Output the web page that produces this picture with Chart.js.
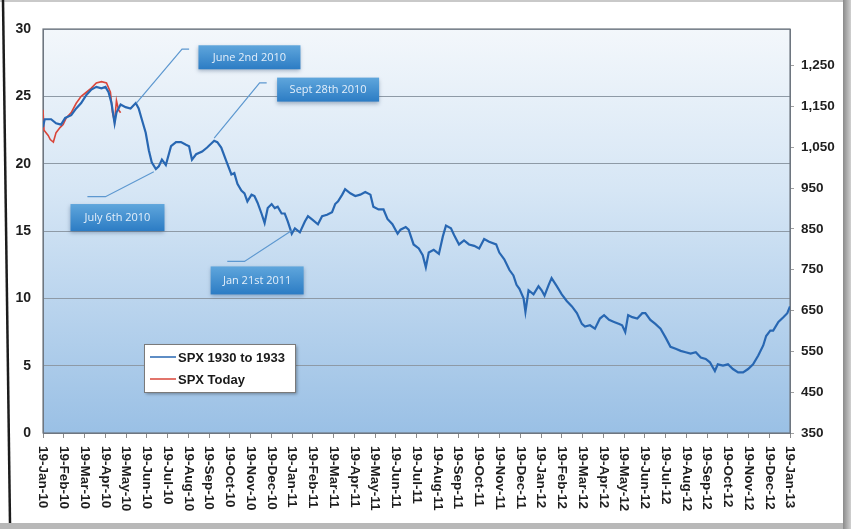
<!DOCTYPE html>
<html>
<head>
<meta charset="utf-8">
<script src="https://cdn.jsdelivr.net/npm/chart.js@4.4.0/dist/chart.umd.min.js"></script>
<style>
  html, body { margin: 0; padding: 0; background: #fff; }
</style>
</head>
<body>
<canvas id="myChart" width="851" height="529"></canvas>
<script>
// x tick labels, one per month (x value = months since 19-Jan-10)
const monthLabels = [
    '19-Jan-10', '19-Feb-10', '19-Mar-10', '19-Apr-10', '19-May-10', '19-Jun-10',
    '19-Jul-10', '19-Aug-10', '19-Sep-10', '19-Oct-10', '19-Nov-10', '19-Dec-10',
    '19-Jan-11', '19-Feb-11', '19-Mar-11', '19-Apr-11', '19-May-11', '19-Jun-11',
    '19-Jul-11', '19-Aug-11', '19-Sep-11', '19-Oct-11', '19-Nov-11', '19-Dec-11',
    '19-Jan-12', '19-Feb-12', '19-Mar-12', '19-Apr-12', '19-May-12', '19-Jun-12',
    '19-Jul-12', '19-Aug-12', '19-Sep-12', '19-Oct-12', '19-Nov-12', '19-Dec-12',
    '19-Jan-13'
];

// SPX 1930 to 1933 (left axis)
const spx1930Months = [
    0, 0.08, 0.39, 0.63, 0.87, 1.07, 1.36, 1.6, 1.84, 2.09, 2.33, 2.57, 2.82, 3.01, 3.16, 3.3,
    3.45, 3.54, 3.74, 3.98, 4.22, 4.47, 4.61, 4.76, 4.95, 5.1, 5.24, 5.44, 5.58, 5.73, 5.92,
    6.17, 6.41, 6.65, 6.89, 7.04, 7.18, 7.38, 7.67, 7.91, 8.25, 8.4, 8.59, 8.83, 9.08, 9.22,
    9.37, 9.56, 9.71, 9.85, 10.05, 10.19, 10.34, 10.53, 10.68, 10.83, 11.02, 11.17, 11.31,
    11.5, 11.65, 11.8, 11.99, 12.14, 12.38, 12.62, 12.77, 13.01, 13.25, 13.45, 13.69, 13.93,
    14.08, 14.22, 14.42, 14.56, 14.81, 15.05, 15.29, 15.53, 15.78, 15.92, 16.17, 16.41, 16.6,
    16.84, 17.09, 17.23, 17.48, 17.62, 17.86, 18.11, 18.3, 18.45, 18.59, 18.83, 19.08, 19.27,
    19.42, 19.66, 19.81, 20.05, 20.29, 20.53, 20.78, 21.02, 21.26, 21.5, 21.84, 21.99, 22.23,
    22.48, 22.67, 22.82, 22.96, 23.16, 23.25, 23.4, 23.64, 23.88, 24.03, 24.17, 24.37, 24.51,
    24.76, 25, 25.24, 25.49, 25.73, 25.97, 26.12, 26.36, 26.6, 26.84, 27.04, 27.28, 27.52,
    27.77, 27.91, 28.06, 28.2, 28.4, 28.64, 28.88, 29.03, 29.27, 29.51, 29.76, 30, 30.24,
    30.49, 30.73, 30.97, 31.21, 31.46, 31.7, 31.94, 32.14, 32.38, 32.52, 32.77, 33.01, 33.25,
    33.5, 33.74, 33.98, 34.22, 34.47, 34.71, 34.85, 35.05, 35.19, 35.44, 35.68, 35.87, 36
];
const spx1930Values = [
    22.7, 23.3, 23.3, 23.0, 22.9, 23.4, 23.6, 24.1, 24.5, 25.1, 25.5, 25.7, 25.6, 25.7, 25.3, 24.5,
    23.0, 23.8, 24.4, 24.2, 24.1, 24.5, 24.1, 23.3, 22.3, 21.0, 20.1, 19.6, 19.8, 20.3, 19.9,
    21.3, 21.6, 21.6, 21.4, 21.3, 20.3, 20.7, 20.9, 21.2, 21.7, 21.6, 21.2, 20.2, 19.2, 19.3,
    18.5, 18.0, 17.8, 17.2, 17.7, 17.6, 17.1, 16.3, 15.6, 16.7, 17.0, 16.7, 16.8,
    16.3, 16.3, 15.7, 14.8, 15.2, 14.9, 15.7, 16.1, 15.8, 15.5, 16.1, 16.2, 16.4,
    17.0, 17.2, 17.7, 18.1, 17.8, 17.6, 17.7, 17.9, 17.7, 16.8, 16.6, 16.6, 15.9,
    15.5, 14.8, 15.1, 15.3, 15.1, 14.0, 13.7, 13.2, 12.3, 13.4, 13.6, 13.3, 14.6,
    15.4, 15.2, 14.7, 14.0, 14.3, 14.0, 13.9, 13.7, 14.4, 14.2, 14.0, 13.4, 12.9,
    12.1, 11.7, 11.0, 10.7, 10.0, 9.0, 10.6, 10.3, 10.9, 10.6, 10.2, 11.0, 11.5,
    10.9, 10.3, 9.8, 9.4, 8.9, 8.1, 7.9, 8.0, 7.75, 8.5, 8.75, 8.4, 8.25,
    8.1, 8.0, 7.5, 8.75, 8.6, 8.5, 8.9, 8.9, 8.4, 8.1, 7.75, 7.1, 6.4,
    6.25, 6.1, 6.0, 5.9, 6.0, 5.6, 5.5, 5.25, 4.6, 5.1, 5.0, 5.1, 4.75,
    4.5, 4.5, 4.75, 5.1, 5.75, 6.5, 7.2, 7.6, 7.6, 8.25, 8.6, 8.9, 9.4
];

// SPX Today (right axis)
const spxTodayMonths = [
    0, 0.05, 0.25, 0.35, 0.5, 0.63, 0.83, 0.97, 1.12, 1.36, 1.6, 1.84, 2.09, 2.33, 2.57,
    2.82, 3.06, 3.25, 3.35, 3.45, 3.54, 3.64, 3.74
];
const spxTodayValues = [
    1142, 1092, 1079, 1069, 1063, 1086, 1099, 1106, 1122, 1135, 1158, 1175, 1185, 1195, 1208,
    1211, 1208, 1185, 1135, 1112, 1165, 1142, 1135
];

const rightTicks = [350, 450, 550, 650, 750, 850, 950, 1050, 1150, 1250];

const callouts = [
    { text: 'June 2nd 2010', at: [9.95, 27.9], w: 102, h: 24, path: [[4.5, 24.5], [6.7, 28.5], [7.04, 28.5]] },
    { text: 'Sept 28th 2010', at: [13.74, 25.5], w: 102, h: 24, path: [[8.25, 21.9], [10.44, 26.0], [10.78, 26.0]] },
    { text: 'July 6th 2010', at: [3.59, 16.0], w: 94, h: 27, path: [[5.34, 19.4], [3.01, 17.55], [2.14, 17.55]] },
    { text: 'Jan 21st 2011', at: [10.32, 11.33], w: 93, h: 28, path: [[11.99, 15.04], [9.71, 12.74], [8.88, 12.74]] }
];

const FONT = "'Liberation Sans', Arial, sans-serif";

// background, photo frame and plot gradient
const backdrop = {
    id: 'backdrop',
    beforeDraw(chart) {
        const { ctx, chartArea: a, width, height } = chart;
        ctx.save();
        ctx.fillStyle = '#fff';
        ctx.fillRect(0, 0, width, height);

        const g = ctx.createLinearGradient(0, a.top, 0, a.bottom);
        g.addColorStop(0, '#f3f7fb');
        g.addColorStop(0.4, '#d6e6f5');
        g.addColorStop(1, '#9ac0e5');
        ctx.fillStyle = g;
        ctx.fillRect(a.left, a.top, a.right - a.left, a.bottom - a.top);

        // edges of the photographed page
        ctx.fillStyle = '#c9c9c9';
        ctx.fillRect(0, 0, width, 2);
        ctx.fillStyle = '#b8b8b8';
        ctx.fillRect(0, 523, width, 6);
        const rg = ctx.createLinearGradient(843, 0, width, 0);
        rg.addColorStop(0, '#8a8a8a');
        rg.addColorStop(1, '#d0d0d0');
        ctx.fillStyle = rg;
        ctx.fillRect(843, 0, 8, height);
        ctx.strokeStyle = '#1c1c1c';
        ctx.lineWidth = 2.5;
        ctx.beginPath();
        ctx.moveTo(3, 0);
        ctx.lineTo(10, 523);
        ctx.stroke();
        ctx.restore();
    },
    beforeDatasetsDraw(chart) {
        const { ctx, chartArea: a } = chart;
        ctx.save();
        ctx.strokeStyle = '#6f7780';
        ctx.lineWidth = 1.2;
        ctx.strokeRect(a.left, a.top, a.right - a.left, a.bottom - a.top);
        ctx.restore();
    }
};

// rotated month labels (read top to bottom)
const monthAxis = {
    id: 'monthAxis',
    afterDraw(chart) {
        const { ctx, chartArea: a } = chart;
        const xs = chart.scales.x;
        ctx.save();
        ctx.fillStyle = '#1e1e1e';
        ctx.font = 'bold 13.5px ' + FONT;
        ctx.textAlign = 'left';
        ctx.textBaseline = 'middle';
        monthLabels.forEach((lab, i) => {
            const x = xs.getPixelForValue(i);
            ctx.save();
            ctx.translate(x, a.bottom + 13);
            ctx.rotate(Math.PI / 2);
            ctx.fillText(lab, 0, 0);
            ctx.restore();
        });
        ctx.restore();
    }
};

// callout boxes with leader lines
const calloutBoxes = {
    id: 'calloutBoxes',
    afterDatasetsDraw(chart) {
        const { ctx } = chart;
        const xs = chart.scales.x, ys = chart.scales.y;
        ctx.save();
        callouts.forEach(c => {
            ctx.strokeStyle = '#5d98d0';
            ctx.lineWidth = 1.2;
            ctx.beginPath();
            c.path.forEach((p, i) => {
                const px = xs.getPixelForValue(p[0]), py = ys.getPixelForValue(p[1]);
                if (i === 0) ctx.moveTo(px, py); else ctx.lineTo(px, py);
            });
            ctx.stroke();

            const cx = xs.getPixelForValue(c.at[0]), cy = ys.getPixelForValue(c.at[1]);
            const x0 = cx - c.w / 2, y0 = cy - c.h / 2;
            const g = ctx.createLinearGradient(0, y0, 0, y0 + c.h);
            g.addColorStop(0, '#5fa6dc');
            g.addColorStop(1, '#2c7cc4');
            ctx.save();
            ctx.shadowColor = 'rgba(30,60,100,0.35)';
            ctx.shadowBlur = 4;
            ctx.shadowOffsetY = 2;
            ctx.fillStyle = g;
            ctx.fillRect(x0, y0, c.w, c.h);
            ctx.restore();
            ctx.fillStyle = '#e4effa';
            ctx.font = "11px 'Open Sans', sans-serif";
            ctx.textAlign = 'center';
            ctx.textBaseline = 'middle';
            ctx.fillText(c.text, cx, cy + 0.5);
        });
        ctx.restore();
    }
};

// legend box inside the plot
const boxLegend = {
    id: 'boxLegend',
    afterDraw(chart) {
        const { ctx, chartArea: a } = chart;
        const x0 = a.left + 101, y0 = a.top + 315, w = 151, h = 48;
        ctx.save();
        ctx.shadowColor = 'rgba(0,0,0,0.35)';
        ctx.shadowBlur = 3;
        ctx.shadowOffsetX = 2;
        ctx.shadowOffsetY = 2;
        ctx.fillStyle = '#ffffff';
        ctx.fillRect(x0, y0, w, h);
        ctx.restore();
        ctx.save();
        ctx.strokeStyle = '#7a7a7a';
        ctx.lineWidth = 1;
        ctx.strokeRect(x0 + 0.5, y0 + 0.5, w, h);
        ctx.font = 'bold 13px ' + FONT;
        ctx.textBaseline = 'middle';
        chart.data.datasets.forEach((ds, i) => {
            const y = y0 + 13 + i * 22;
            ctx.strokeStyle = ds.borderColor;
            ctx.lineWidth = 1.5;
            ctx.beginPath();
            ctx.moveTo(x0 + 6, y);
            ctx.lineTo(x0 + 32, y);
            ctx.stroke();
            ctx.fillStyle = '#1a1a1a';
            ctx.fillText(ds.label, x0 + 34, y + 1);
        });
        ctx.restore();
    }
};

const ctx = document.getElementById('myChart').getContext('2d');
const lineChart = new Chart(ctx, {
    type: 'line',
    data: {
        datasets: [
            {
                label: 'SPX 1930 to 1933',
                data: spx1930Months.map((m, i) => ({ x: m, y: spx1930Values[i] })),
                borderColor: '#2867b2',
                borderWidth: 2.2,
                pointRadius: 0,
                tension: 0,
                yAxisID: 'y'
            },
            {
                label: 'SPX Today',
                data: spxTodayMonths.map((m, i) => ({ x: m, y: spxTodayValues[i] })),
                borderColor: '#d9463a',
                borderWidth: 1.6,
                pointRadius: 0,
                tension: 0,
                yAxisID: 'y2'
            }
        ]
    },
    options: {
        responsive: false,
        animation: false,
        layout: { padding: { top: 29 } },
        plugins: {
            legend: { display: false },
            tooltip: { enabled: false }
        },
        scales: {
            x: {
                type: 'linear',
                min: 0,
                max: 36,
                ticks: { stepSize: 1, display: false },
                grid: { drawOnChartArea: false, drawTicks: true, tickLength: 5, color: '#8a8a8a' },
                border: { color: '#6f7780' },
                afterFit: s => { s.height = 96; }
            },
            y: {
                position: 'left',
                min: 0,
                max: 30,
                ticks: {
                    stepSize: 5,
                    color: '#1e1e1e',
                    padding: 12,
                    font: { family: FONT, size: 14, weight: 'bold' }
                },
                grid: { color: '#8e9aa6', drawTicks: false },
                border: { color: '#6f7780' },
                afterFit: s => { s.width = 43; }
            },
            y2: {
                position: 'right',
                min: 350,
                max: 1340,
                afterBuildTicks: s => { s.ticks = rightTicks.map(v => ({ value: v })); },
                ticks: {
                    color: '#1e1e1e',
                    padding: 7,
                    font: { family: FONT, size: 13.5, weight: 'bold' },
                    callback: v => v.toLocaleString('en-US')
                },
                grid: { drawOnChartArea: false, tickLength: 4, color: '#a0a0a0' },
                border: { color: '#6f7780' },
                afterFit: s => { s.width = 61; }
            }
        }
    },
    plugins: [backdrop, calloutBoxes, monthAxis, boxLegend]
});
</script>
</body>
</html>
